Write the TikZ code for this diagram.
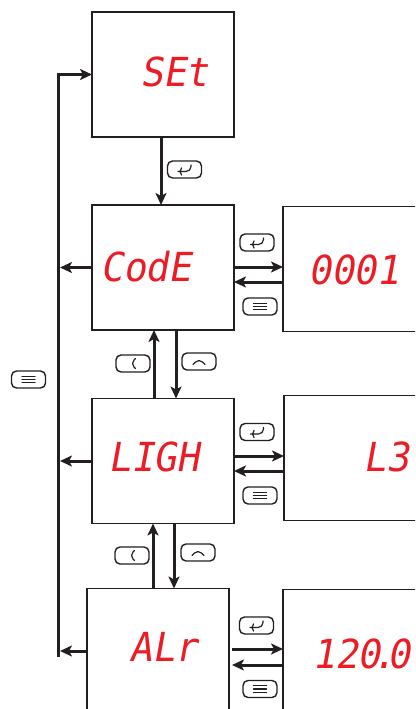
\documentclass[tikz,border=0pt]{standalone}
\usepackage{fontspec}
\usetikzlibrary{arrows.meta,calc}
\newfontfamily\segfont[FakeSlant=0.18,FakeStretch=0.95]{DejaVu Sans Mono}
\definecolor{segred}{RGB}{237,28,36}
\definecolor{ink}{RGB}{35,31,32}
\begin{document}
\begin{tikzpicture}[x=1pt,y=-1pt,
  screen/.style={draw=ink,line width=1.7pt,minimum width=142pt,minimum height=125pt,inner sep=0pt,outer sep=0pt},
  seg/.style={text=segred,font=\segfont\fontsize{40}{40}\selectfont,inner sep=0pt,anchor=base west},
  arr/.style={draw=ink,line width=3pt,-{Stealth[length=12pt,width=11pt,inset=3pt]}},
  icon/.style={draw=ink,line width=1.2pt,line cap=round,line join=round},
  key/.style={draw=ink,line width=1.4pt,rounded corners=5pt,minimum width=34pt,minimum height=17pt,inner sep=0pt},
  enterkey/.style={key,path picture={\draw[icon,shift={(path picture bounding box.center)}] (6.5,-4.5) -- (6.5,2) -- (-6.5,2) (-3,-1.5) -- (-6.5,2) -- (-3,5.5);}},
  menukey/.style={key,path picture={\draw[icon,shift={(path picture bounding box.center)}] (-6.5,-3.2) -- (6.5,-3.2) (-6.5,0) -- (6.5,0) (-6.5,3.2) -- (6.5,3.2);}},
  leftkey/.style={key,path picture={\draw[icon,shift={(path picture bounding box.center)}] (2.5,-5) -- (-2.5,0) -- (2.5,5);}},
  upkey/.style={key,path picture={\draw[icon,shift={(path picture bounding box.center)}] (-6,3) -- (0,-3) -- (6,3);}},
]
\useasboundingbox (0,0) rectangle (415,709);
\clip (0,0) rectangle (415,709);

% screens
\node[screen] (set) at (163,74.5) {};
\node[screen] (code) at (163,267.5) {};
\node[screen] (ligh) at (163,461) {};
\node[screen] (alr) at (158,651) {};
\node[screen] (v1) at (354,269) {};
\node[screen] (v2) at (355,458) {};
\node[screen] (v3) at (354,652) {};

% display texts
\node[seg] (tset) at (140,86) {SEt};
\node[seg] (tcode) at (100,281) {CodE};
\node[seg] (tligh) at (108,471) {LIGH};
\node[seg] (talr) at (129,661) {ALr};
\node[seg] (tv1) at (308,284) {0001};
\node[seg] (tv2) at (363,471) {L3};
\node[seg] (tv3) at (312,668) {120\kern-8pt.\kern-8pt0};

% left return line
\coordinate (Lbot) at (58,657);
\coordinate (Ltip) at (60,0);
\draw[arr] (Lbot) |- (set.west);
\draw[arr] (code.west) -- (code.west -| Ltip);
\draw[arr] (ligh.west) -- (ligh.west -| Ltip);
\draw[arr] (alr.west) -- (alr.west -| Ltip);

% vertical connectors
\draw[arr] ([xshift=-2pt]set.south) -- ([xshift=-2pt]code.north);
\draw[arr] ([xshift=-9pt]ligh.north) -- ([xshift=-9pt]code.south);
\draw[arr] ([xshift=13pt]code.south) -- ([xshift=13pt]ligh.north);
\coordinate (u2) at ($(ligh.south)+(-10,0)$);
\coordinate (d2) at ($(ligh.south)+(11,0)$);
\draw[arr] (u2 |- alr.north) -- (u2);
\draw[arr] (d2) -- (d2 |- alr.north);

% horizontal connectors
\coordinate (h1a) at ($(code.east)+(0,-0.5)$);
\coordinate (h1b) at ($(code.east)+(0,14.5)$);
\draw[arr] (h1a) -- (h1a -| v1.west);
\draw[arr] (h1b -| v1.west) -- (h1b);
\coordinate (h2a) at ($(ligh.east)+(0,-5)$);
\coordinate (h2b) at ($(ligh.east)+(0,10)$);
\draw[arr] (h2a) -- (h2a -| v2.west);
\draw[arr] (h2b -| v2.west) -- (h2b);
\coordinate (h3a) at ($(alr.east)+(3,-2)$);
\coordinate (h3b) at ($(alr.east)+(3,14)$);
\draw[arr] (h3a) -- (h3a -| v3.west);
\draw[arr] (h3b -| v3.west) -- (h3b);

% keys
\node[enterkey] (k1) at (184.5,169.5) {};
\node[enterkey] (k2) at (257,242.5) {};
\node[menukey] (k3) at (260,306.5) {};
\node[leftkey] (k4) at (133,363.5) {};
\node[upkey] (k5) at (199,361.5) {};
\node[enterkey] (k6) at (257,432) {};
\node[menukey] (k7) at (260,495.5) {};
\node[leftkey] (k8) at (132,555.5) {};
\node[upkey] (k9) at (198,552.5) {};
\node[enterkey] (k10) at (256.5,625.5) {};
\node[menukey] (k11) at (260,689) {};
\node[menukey] (k12) at (28.5,379.5) {};
\end{tikzpicture}
\end{document}
